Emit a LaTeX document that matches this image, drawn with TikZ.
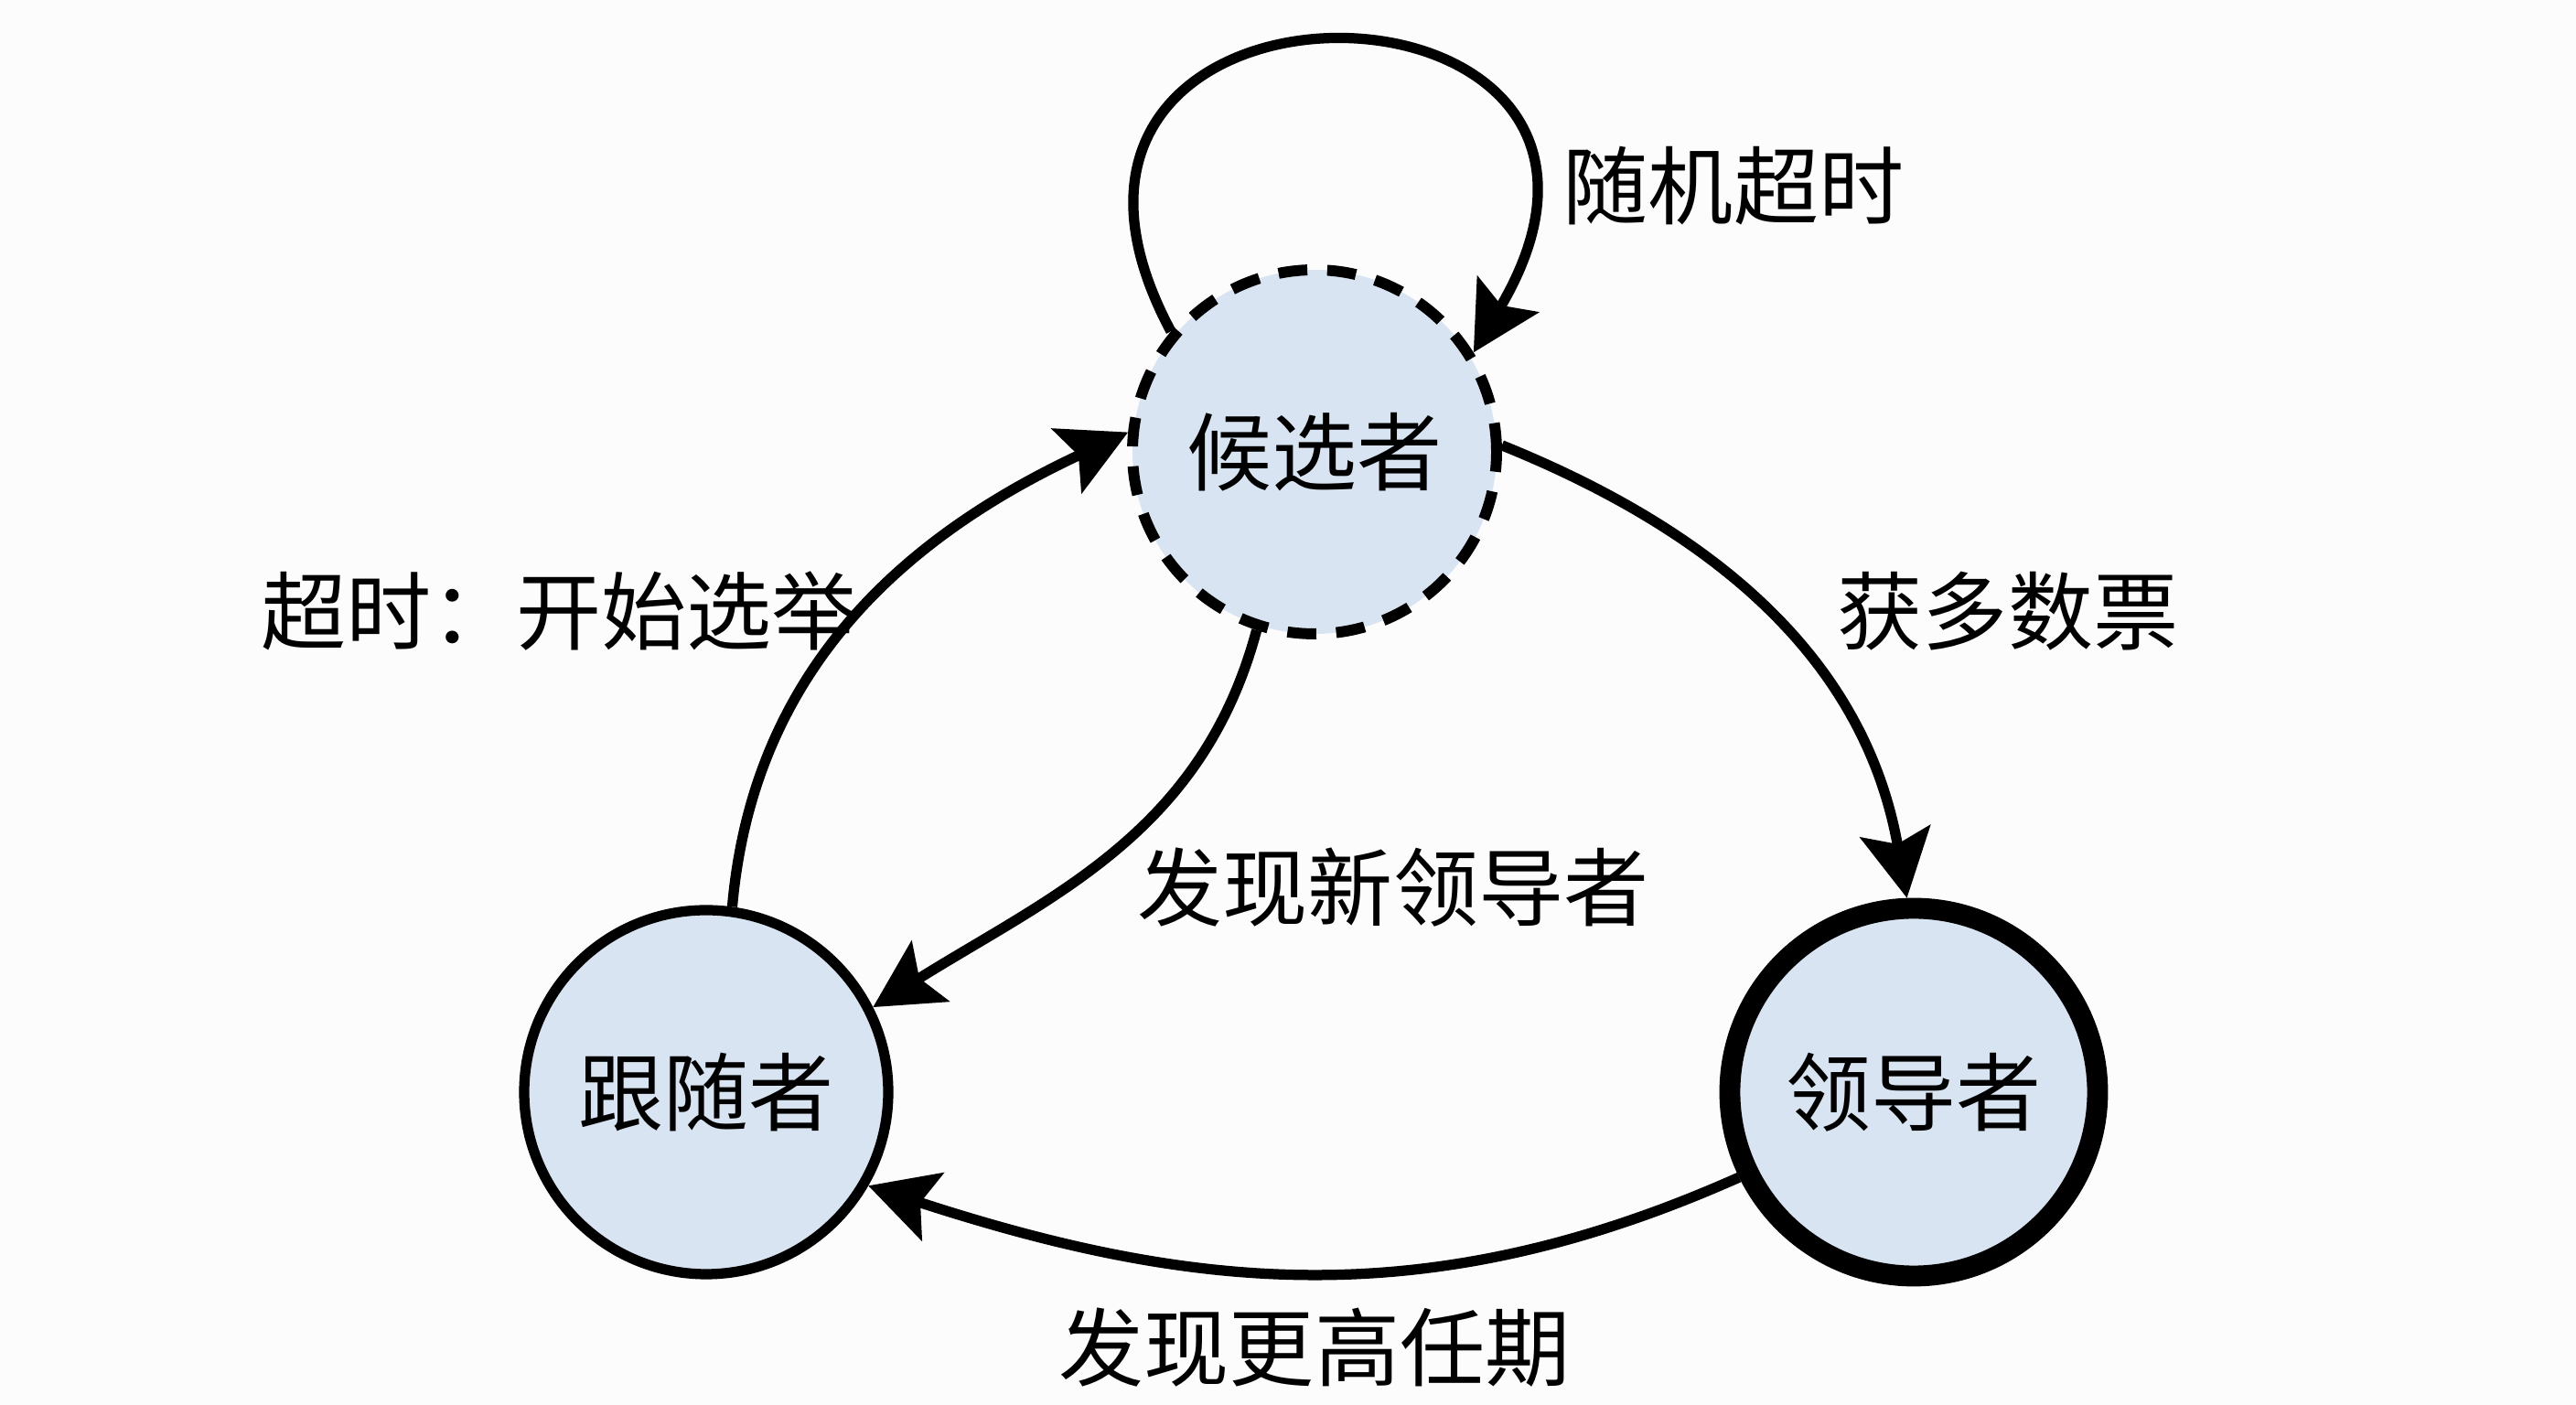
\documentclass[tikz,border=0pt]{standalone}
\usepackage{fontspec}
\setmainfont{Noto Sans CJK SC}
\usepackage{xcolor}
\usetikzlibrary{arrows.meta, positioning}

\definecolor{statefill}{HTML}{D9E4F2}
\definecolor{bgpaper}{HTML}{FCFCFC}

\begin{document}
\begin{tikzpicture}[
    state/.style={
      circle, draw=black, line width=3.2pt,
      fill=statefill, minimum size=3.98cm, inner sep=0pt,
      font=\fontsize{26.5}{30}\selectfont
    },
    lbl/.style={
      font=\fontsize{26.5}{30}\selectfont, inner sep=2pt
    },
    arr/.style={-{Stealth[length=21pt, width=22pt, inset=4pt]}, line width=3.2pt}
  ]

    \fill[bgpaper] (0,0) rectangle (28.16,15.36);
    \useasboundingbox (0,0) rectangle (28.16,15.36);

    % states
    \node[state, dashed, dash pattern=on 9pt off 6.2pt, line width=3.4pt] (cand) at (14.37,10.42) {候选者};
    \node[state] (fol) at (7.72,3.42) {跟随者};
    \node[state, line width=6.5pt, minimum size=4.02cm] (lead) at (20.92,3.42) {领导者};

    % labels
    \node[lbl] (timeout) at (18.95,13.33) {随机超时};
    \node[lbl] (majority) at (21.95,8.68) {获多数票};
    \node[lbl] (elect) at (6.11,8.68) {超时：开始选举};
    \node[lbl] (newlead) at (15.23,5.66) {发现新领导者};
    \node[lbl] (higher) at (14.37,0.63) {发现更高任期};

    % transitions
    \draw[arr] (cand.140) .. controls +(-2.3,4.3) and +(2.6,4.4) .. (cand.32);
    \draw[arr] (cand.2) to[out=-22, in=100] (lead.92);
    \draw[arr] (fol.82) to[out=85, in=205] (cand.174);
    \draw[arr] (cand.-108) to[out=-105, in=32] (fol.27);
    \draw[arr] (lead.206) to[out=204, in=-18] (fol.-30);
  \end{tikzpicture}
\end{document}
